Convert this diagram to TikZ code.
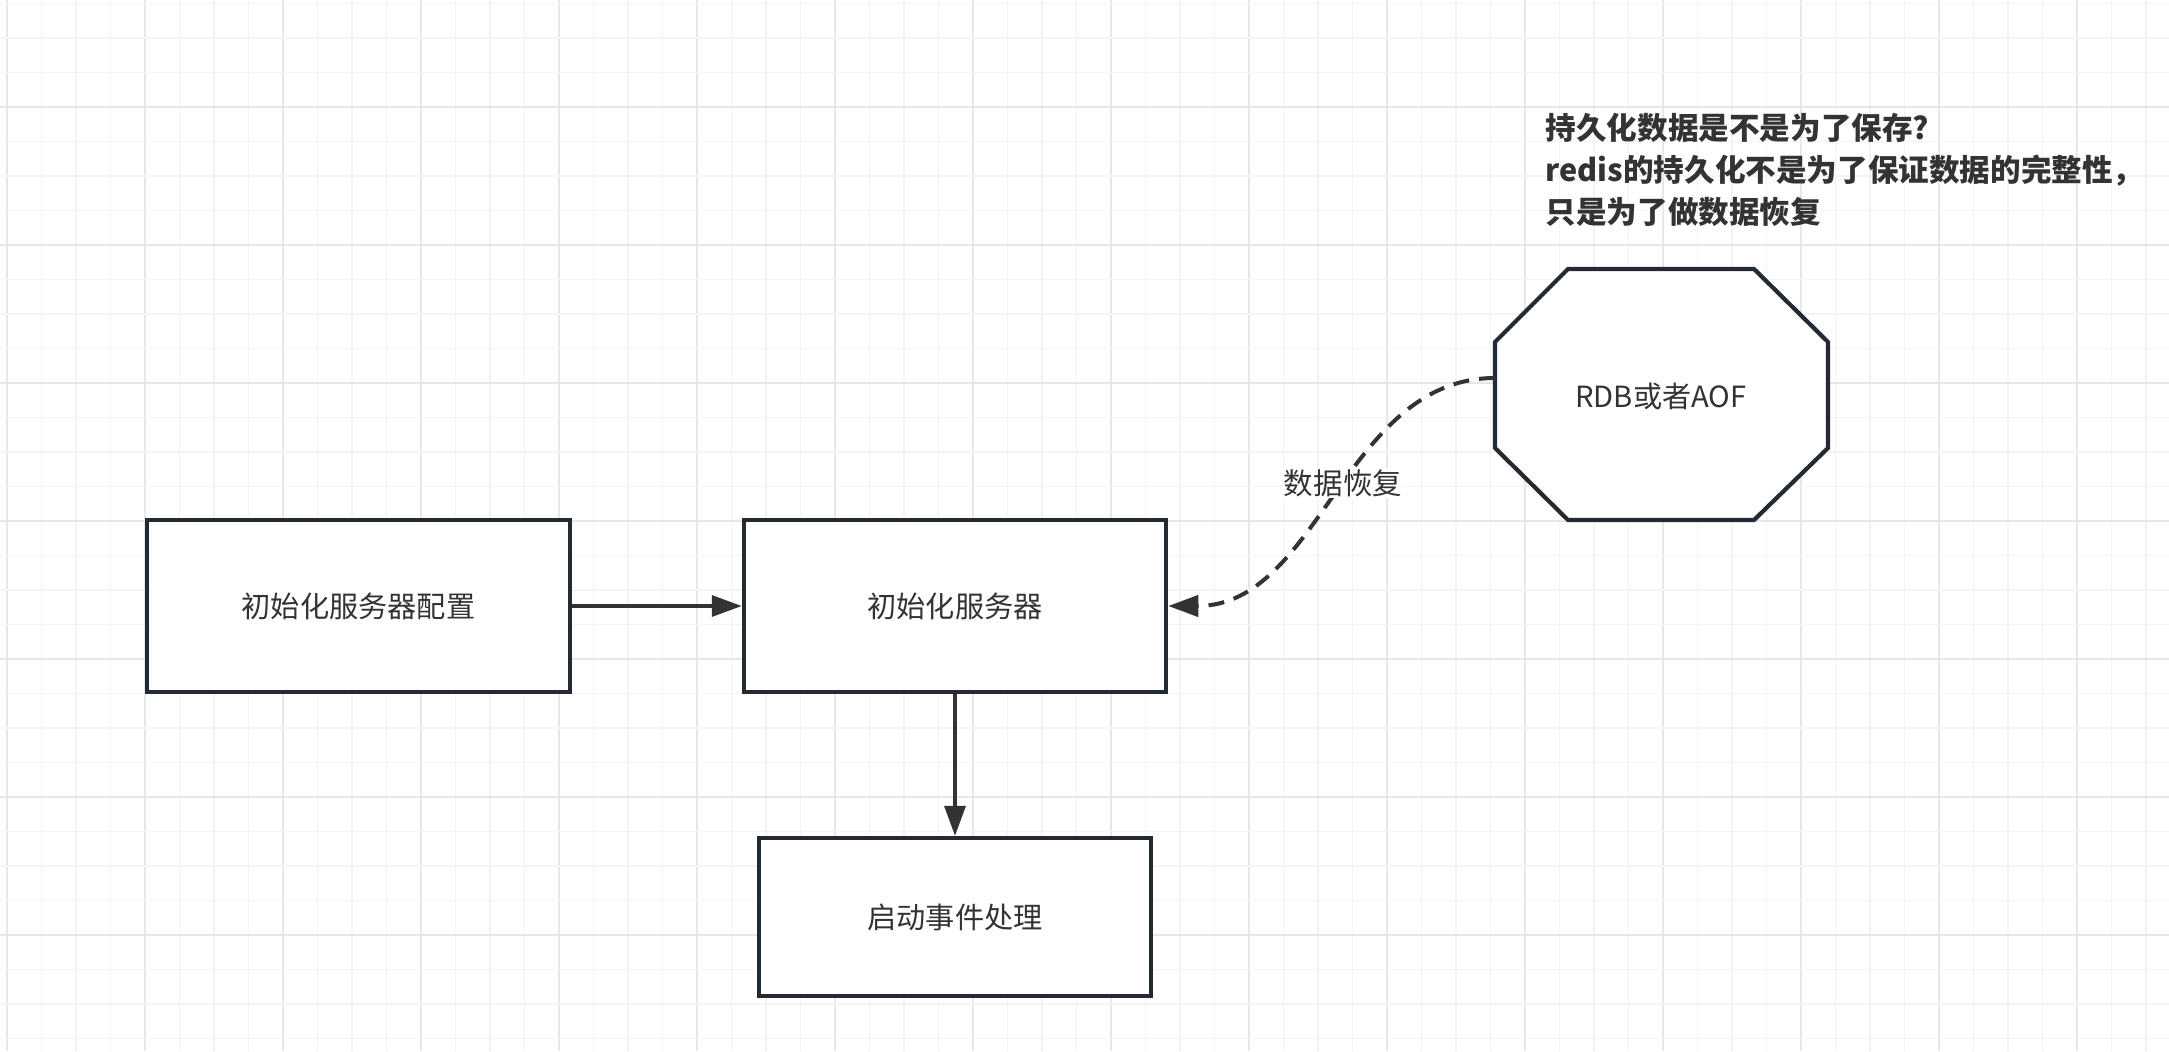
\documentclass[tikz,border=0pt]{standalone}
\usepackage{fontspec}
\setmainfont{Noto Sans CJK SC}
\usetikzlibrary{arrows.meta}
\definecolor{gridminor}{HTML}{F3F3F3}
\definecolor{gridmajor}{HTML}{E7E7E7}
\definecolor{edge}{HTML}{232A31}
\definecolor{ink}{HTML}{333333}
\tikzset{
  boxnode/.style={draw=edge, line width=0.042cm, fill=white, rectangle, inner sep=0pt,
    font=\fontsize{8.3pt}{10pt}\selectfont, text=ink},
  conn/.style={draw=ink, line width=0.034cm, -{Triangle[length=0.30cm,width=0.21cm]}, ink},
  gminor/.style={draw=gridminor, line width=0.011cm},
  gmajor/.style={draw=gridmajor, line width=0.014cm},
}
\begin{document}
\begin{tikzpicture}[x=0.01cm, y=-0.01cm]
\path[use as bounding box, fill=white] (0,0) rectangle (2169,1051);
% grid
\foreach \i in {0,...,62} {
  \pgfmathsetmacro\gx{7+34.5*\i}
  \pgfmathtruncatemacro\gm{mod(\i,4)}
  \ifnum\gm=0 \draw[gmajor] (\gx,0) -- (\gx,1051); \else \draw[gminor] (\gx,0) -- (\gx,1051); \fi
}
\foreach \j in {0,...,30} {
  \pgfmathsetmacro\gy{3.5+34.5*\j}
  \pgfmathtruncatemacro\gm{mod(\j,4)}
  \ifnum\gm=3 \draw[gmajor] (0,\gy) -- (2169,\gy); \else \draw[gminor] (0,\gy) -- (2169,\gy); \fi
}
% boxes
\node[boxnode, minimum width=4.23cm, minimum height=1.72cm] (b1) at (358.5,606) {初始化服务器配置};
\node[boxnode, minimum width=4.22cm, minimum height=1.72cm] (b2) at (955,606) {初始化服务器};
\node[boxnode, minimum width=3.92cm, minimum height=1.58cm] (b3) at (955,917) {启动事件处理};
% octagon
\draw[edge, line width=0.042cm, fill=white] (1568,269) -- (1754,269) -- (1828,342) -- (1828,448)
  -- (1754,520) -- (1568,520) -- (1495,448) -- (1495,342) -- cycle;
\node[text=ink, font=\fontsize{8.3pt}{10pt}\selectfont] (oct) at (1661,396) {RDB或者AOF};
\coordinate (octw) at (1495,378);
% connectors
\draw[conn] (b1.east) -- (b2.west);
\draw[conn] (b2.south) -- (b3.north);
\draw[conn, line width=0.04cm, dash pattern=on 0.16cm off 0.10cm] (octw) .. controls (1345,378) and (1320,606) .. (b2.east);
\node[fill=white, inner sep=0.01cm, text=ink, font=\fontsize{8.4pt}{10pt}\selectfont] (lbl) at (1343,483) {数据恢复};
% annotation
\node[anchor=north west, align=left, text=ink, inner sep=0pt,
  font=\bfseries\fontsize{8.7pt}{12pt}\selectfont] (note) at (1545,112)
  {持久化数据是不是为了保存?\\redis的持久化不是为了保证数据的完整性，\\只是为了做数据恢复};
\end{tikzpicture}
\end{document}
